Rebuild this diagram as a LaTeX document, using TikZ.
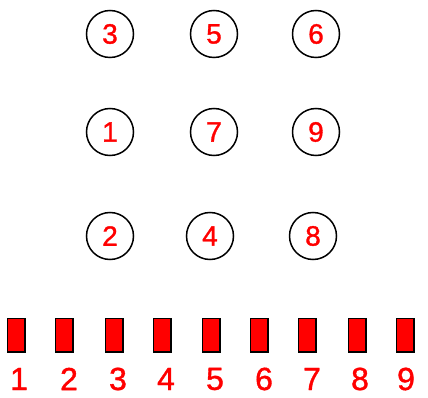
\documentclass[tikz,border=0pt]{standalone}
\usepackage{fontspec}
\setmainfont{Liberation Sans}
\newfontfamily\numfont[FakeBold=1.2]{Liberation Sans}
\usepackage{tikz}

\tikzset{
  ball/.style={circle, draw=black, line width=1.5pt, minimum size=47pt, inner sep=0pt,
    text=red, font=\numfont\fontsize{28}{28}\selectfont},
  slot/.style={rectangle, draw=black, fill=red, line width=1.5pt, minimum width=17.5pt,
    minimum height=33.5pt, inner sep=0pt},
  slotnum/.style={text=red, inner sep=0pt, font=\numfont\fontsize{32}{32}\selectfont}
}

\begin{document}
\begin{tikzpicture}[x=1pt, y=-1pt]
  \useasboundingbox (0,0) rectangle (428,398);
  % balls
  \node[ball] (b3) at (110,34)  {3};
  \node[ball] (b5) at (214,34)  {5};
  \node[ball] (b6) at (316,34)  {6};
  \node[ball] (b1) at (110,132) {1};
  \node[ball] (b7) at (214,132) {7};
  \node[ball] (b9) at (316,132) {9};
  \node[ball] (b2) at (110,236) {2};
  \node[ball] (b4) at (210,236) {4};
  \node[ball] (b8) at (313,236) {8};
  % slots
  \node[slot] (s1) at (16,335)  {};
  \node[slot] (s2) at (64,335)  {};
  \node[slot] (s3) at (114,335) {};
  \node[slot] (s4) at (162,335) {};
  \node[slot] (s5) at (211,335) {};
  \node[slot] (s6) at (259,335) {};
  \node[slot] (s7) at (307,335) {};
  \node[slot] (s8) at (357,335) {};
  \node[slot] (s9) at (405,335) {};
  % slot numbers
  \node[slotnum] (n1) at (19,379)  {1};
  \node[slotnum] (n2) at (69,379)  {2};
  \node[slotnum] (n3) at (118,379) {3};
  \node[slotnum] (n4) at (166,379) {4};
  \node[slotnum] (n5) at (215,379) {5};
  \node[slotnum] (n6) at (264,379) {6};
  \node[slotnum] (n7) at (312,379) {7};
  \node[slotnum] (n8) at (360,379) {8};
  \node[slotnum] (n9) at (406,379) {9};
\end{tikzpicture}
\end{document}
